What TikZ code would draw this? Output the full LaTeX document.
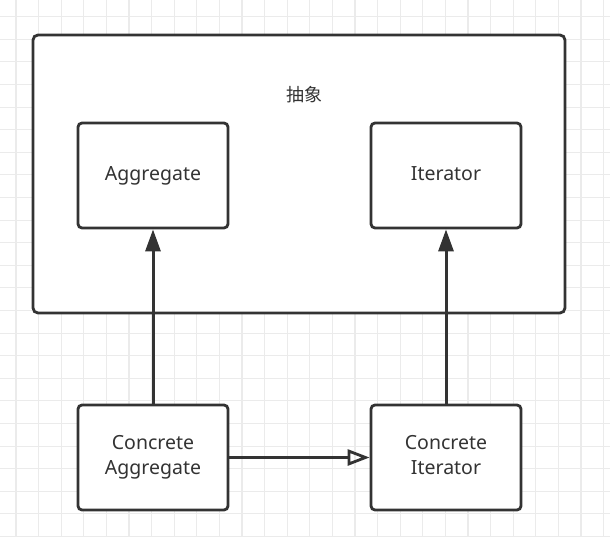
\documentclass[tikz,border=0pt]{standalone}
\usepackage{fontspec}
\setmainfont{Noto Sans}
\newfontfamily\cjk{Noto Sans CJK SC}
\usetikzlibrary{arrows.meta}
\definecolor{ink}{HTML}{333333}
\definecolor{gridc}{HTML}{EBEBEB}
\newcommand{\dsc}{\vphantom{gA}}
\tikzset{
  box/.style={draw=ink, fill=white, line width=2.8pt, rounded corners=4pt, minimum width=150pt, minimum height=105pt, inner sep=0pt, align=center, font=\fontsize{19.5}{25}\selectfont, text=ink},
  outerbox/.style={draw=ink, fill=white, line width=2.8pt, rounded corners=5pt, minimum width=532pt, minimum height=278pt, inner sep=0pt},
  inh/.style={draw=ink, line width=3pt, -{Triangle[width=15pt,length=22pt]}},
  real/.style={draw=ink, line width=3pt, -{Triangle[open,width=16pt,length=22pt,line width=2.8pt]}},
}
\begin{document}
\begin{tikzpicture}[x=1pt,y=-1pt]
\useasboundingbox (0,0) rectangle (610,537);
\fill[white] (0,0) rectangle (610,537);
\foreach \i in {0,...,26} {
  \draw[gridc, line width=1.1pt] ({16+22.6*\i},0) -- ({16+22.6*\i},537);
  \draw[gridc, line width=1.1pt] (0,{16.7+22.6*\i}) -- (610,{16.7+22.6*\i});
}
\node[outerbox] (abs) at (299,174) {};
\node[font=\cjk\fontsize{18}{22}\selectfont, text=ink] (lbl) at (304,95) {抽象};
\node[box] (agg) at (153,175.5) {\dsc Aggregate};
\node[box] (it) at (446,175.5) {\dsc Iterator};
\node[box] (cagg) at (153,457.5) {Concrete\\\dsc Aggregate};
\node[box] (cit) at (446,457.5) {Concrete\\\dsc Iterator};
\draw[inh] (cagg) -- (agg);
\draw[inh] (cit) -- (it);
\draw[real] (cagg) -- (cit);
\end{tikzpicture}
\end{document}
